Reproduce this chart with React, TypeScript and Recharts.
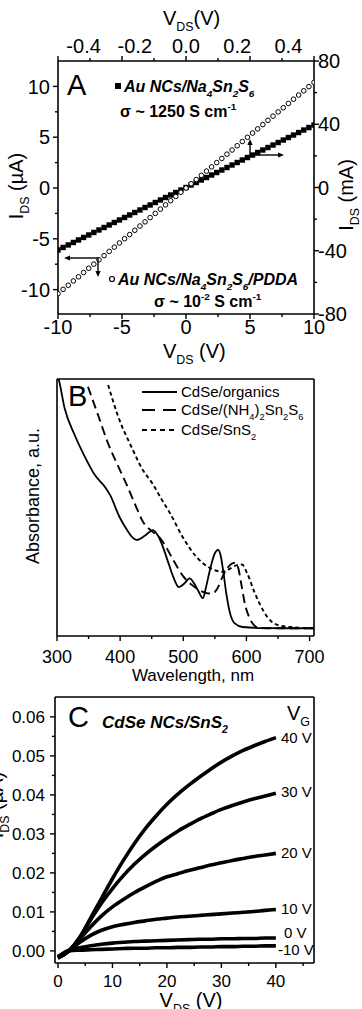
import React from "react";
import { LineChart, Line, XAxis, YAxis } from "recharts";

const FONT = '"Liberation Sans", Arial, Helvetica, sans-serif';
const INK = "#000";

// ---------- panel A : I-V of Au NC films ----------
const vdsBottom = [
  -10, -9.6, -9.2, -8.8, -8.4, -8, -7.6, -7.2, -6.8, -6.4, -6, -5.6, -5.2, -4.8, -4.4, -4, -3.6,
  -3.2, -2.8, -2.4, -2, -1.6, -1.2, -0.8, -0.4, 0, 0.4, 0.8, 1.2, 1.6, 2, 2.4, 2.8, 3.2, 3.6, 4,
  4.4, 4.8, 5.2, 5.6, 6, 6.4, 6.8, 7.2, 7.6, 8, 8.4, 8.8, 9.2, 9.6, 10,
];
// µA, open circles (PDDA film)
const iPdda = [
  -10.4, -9.98, -9.57, -9.15, -8.74, -8.32, -7.9, -7.49, -7.07, -6.66, -6.24, -5.82, -5.41, -4.99,
  -4.58, -4.16, -3.74, -3.33, -2.91, -2.5, -2.08, -1.66, -1.25, -0.83, -0.42, 0, 0.42, 0.83, 1.25,
  1.66, 2.08, 2.5, 2.91, 3.33, 3.74, 4.16, 4.58, 4.99, 5.41, 5.82, 6.24, 6.66, 7.07, 7.49, 7.9,
  8.32, 8.74, 9.15, 9.57, 9.98, 10.4,
];
const vdsTop = [
  -0.5, -0.48, -0.46, -0.44, -0.42, -0.4, -0.38, -0.36, -0.34, -0.32, -0.3, -0.28, -0.26, -0.24,
  -0.22, -0.2, -0.18, -0.16, -0.14, -0.12, -0.1, -0.08, -0.06, -0.04, -0.02, 0, 0.02, 0.04, 0.06,
  0.08, 0.1, 0.12, 0.14, 0.16, 0.18, 0.2, 0.22, 0.24, 0.26, 0.28, 0.3, 0.32, 0.34, 0.36, 0.38, 0.4,
  0.42, 0.44, 0.46, 0.48, 0.5,
];
// mA, filled squares (Na4Sn2S6 film)
const iNa = [
  -39.5, -37.92, -36.34, -34.76, -33.18, -31.6, -30.02, -28.44, -26.86, -25.28, -23.7, -22.12,
  -20.54, -18.96, -17.38, -15.8, -14.22, -12.64, -11.06, -9.48, -7.9, -6.32, -4.74, -3.16, -1.58,
  0, 1.58, 3.16, 4.74, 6.32, 7.9, 9.48, 11.06, 12.64, 14.22, 15.8, 17.38, 18.96, 20.54, 22.12,
  23.7, 25.28, 26.86, 28.44, 30.02, 31.6, 33.18, 34.76, 36.34, 37.92, 39.5,
];

// ---------- panel B : absorbance ----------
const organicsWl = [300, 303, 312, 328, 345, 360, 376, 384, 399, 411, 419, 426, 439, 452, 460, 468, 477, 484, 493, 502, 510, 517, 523, 531, 536, 542, 550, 555, 559, 563, 568, 574, 581, 594, 625, 707];
const organicsAbs = [1.02, 0.996, 0.887, 0.782, 0.693, 0.626, 0.58, 0.549, 0.463, 0.412, 0.385, 0.374, 0.39, 0.412, 0.39, 0.345, 0.28, 0.231, 0.19, 0.205, 0.224, 0.205, 0.179, 0.147, 0.19, 0.255, 0.322, 0.335, 0.315, 0.257, 0.167, 0.089, 0.05, 0.035, 0.031, 0.03];
const sn2s6Wl = [349, 365, 380, 396, 411, 424, 436, 449, 462, 473, 484, 500, 513, 523, 535, 546, 554, 562, 570, 576, 582, 587, 592, 598, 605, 612, 619, 645, 707];
const sn2s6Abs = [0.97, 0.86, 0.755, 0.665, 0.585, 0.51, 0.445, 0.41, 0.385, 0.345, 0.296, 0.232, 0.2, 0.182, 0.168, 0.165, 0.185, 0.23, 0.265, 0.28, 0.285, 0.265, 0.2, 0.12, 0.07, 0.042, 0.032, 0.03, 0.03];
const sns2Wl = [381, 396, 419, 434, 452, 466, 479, 499, 521, 542, 563, 574, 584, 593, 601, 612, 622, 633, 649, 669, 707];
const sns2Abs = [0.977, 0.86, 0.73, 0.654, 0.59, 0.53, 0.478, 0.385, 0.307, 0.265, 0.25, 0.262, 0.275, 0.278, 0.245, 0.175, 0.12, 0.074, 0.043, 0.035, 0.03];

// ---------- panel C : output curves ----------
const vdsC = [0, 2, 4, 6, 8, 10, 12, 14, 16, 18, 20, 22, 24, 26, 28, 30, 32, 34, 36, 38, 40];
const id40 = [-0.0018, 0, 0.0035, 0.0085, 0.0135, 0.0185, 0.0232, 0.0275, 0.0313, 0.0346, 0.0376, 0.0402, 0.0425, 0.0446, 0.0466, 0.0484, 0.05, 0.0514, 0.0526, 0.0537, 0.0547];
const id30 = [-0.0018, 0, 0.0035, 0.008, 0.0123, 0.016, 0.0193, 0.0222, 0.0247, 0.0269, 0.0289, 0.0307, 0.0323, 0.0338, 0.0351, 0.0363, 0.0373, 0.0382, 0.039, 0.0397, 0.0404];
const id20 = [-0.0018, 0, 0.003, 0.0062, 0.009, 0.0113, 0.0132, 0.0149, 0.0164, 0.0178, 0.019, 0.0198, 0.0206, 0.0213, 0.022, 0.0226, 0.0232, 0.0237, 0.0242, 0.0246, 0.025];
const id10 = [-0.0018, 0, 0.0022, 0.004, 0.0053, 0.0062, 0.0068, 0.0073, 0.0077, 0.0081, 0.0084, 0.0087, 0.0089, 0.0091, 0.0093, 0.0095, 0.0097, 0.0099, 0.0101, 0.0104, 0.0106];
const id0 = [-0.0015, 0.0002, 0.0008, 0.0013, 0.0017, 0.002, 0.0022, 0.0024, 0.0025, 0.0026, 0.0027, 0.0028, 0.0029, 0.003, 0.003, 0.0031, 0.0031, 0.0032, 0.0032, 0.0033, 0.0033];
const idm10 = [-0.0015, 0, 0.0002, 0.0003, 0.0004, 0.0005, 0.0006, 0.0007, 0.0007, 0.0008, 0.0008, 0.0009, 0.0009, 0.001, 0.001, 0.0011, 0.0011, 0.0012, 0.0012, 0.0013, 0.0013];
const gateLabels = ["40 V", "30 V", "20 V", "10 V", "0 V", "-10 V"];

const zip = (xs: number[], ys: number[]) => xs.map((x, i) => ({ x, y: ys[i] }));
const near = (arr: number[], v: number) => arr.some((a) => Math.abs(a - v) < 1e-9);
const union = (...a: number[][]) => Array.from(new Set(a.flat())).sort((p, q) => p - q);

type TickCfg = {
  side: "left" | "right" | "top" | "bottom";
  labels: number[];
  major: number[];
  minor: number[];
  fmt: (v: number) => string;
  size: number;
  gap: number;
};

// draws its own tick line (outward) and label, so minor ticks stay unlabeled
function tickFn(c: TickCfg) {
  return (props: any) => {
    const { x, y, payload } = props;
    const v = payload.value;
    const len = near(c.major, v) ? 5 : near(c.minor, v) ? 3 : 0;
    const txt = near(c.labels, v) ? c.fmt(v) : null;
    let l = [x, y, x, y];
    let t = { x, y, anchor: "middle", dy: "0" };
    if (c.side === "left") {
      l = [x - len, y, x, y];
      t = { x: x - c.gap, y, anchor: "end", dy: "0.36em" };
    } else if (c.side === "right") {
      l = [x, y, x + len, y];
      t = { x: x + c.gap, y, anchor: "start", dy: "0.36em" };
    } else if (c.side === "bottom") {
      l = [x, y, x, y + len];
      t = { x, y: y + c.gap, anchor: "middle", dy: "0" };
    } else {
      l = [x, y - len, x, y];
      t = { x, y: y - c.gap, anchor: "middle", dy: "0" };
    }
    return (
      <g>
        {len > 0 && <line x1={l[0]} y1={l[1]} x2={l[2]} y2={l[3]} stroke={INK} strokeWidth={1.4} />}
        {txt !== null && (
          <text x={t.x} y={t.y} dy={t.dy} textAnchor={t.anchor as any} fontSize={c.size} fontFamily={FONT} fill={INK}>
            {txt}
          </text>
        )}
      </g>
    );
  };
}

const axisLine = { stroke: INK, strokeWidth: 1.6 };

// text with _{sub} and ^{sup}
function Rich({ x, y, text, size, anchor = "start", bold = false, italic = false, rotate = false }: any) {
  const parts = text.split(/(_\{[^}]*\}|\^\{[^}]*\})/).filter(Boolean);
  let shift = 0;
  const spans = parts.map((p: string, i: number) => {
    let fs = size;
    let content = p;
    let dy = 0;
    if (p.startsWith("_{")) {
      content = p.slice(2, -1);
      fs = size * 0.62;
      dy = size * 0.32 - shift;
      shift = size * 0.32;
    } else if (p.startsWith("^{")) {
      content = p.slice(2, -1);
      fs = size * 0.62;
      dy = -size * 0.42 - shift;
      shift = -size * 0.42;
    } else {
      dy = -shift;
      shift = 0;
    }
    return (
      <tspan key={i} fontSize={fs} dy={dy}>
        {content}
      </tspan>
    );
  });
  return (
    <text
      x={x}
      y={y}
      fontSize={size}
      fontFamily={FONT}
      fill={INK}
      textAnchor={anchor}
      fontWeight={bold ? "bold" : "normal"}
      fontStyle={italic ? "italic" : "normal"}
      transform={rotate ? `rotate(-90 ${x} ${y})` : undefined}
    >
      {spans}
    </text>
  );
}

function Arrow({ x1, y1, x2, y2 }: any) {
  const a = Math.atan2(y2 - y1, x2 - x1);
  const h = 6;
  const w = 2.6;
  const bx = x2 - h * Math.cos(a);
  const by = y2 - h * Math.sin(a);
  const px = -Math.sin(a) * w;
  const py = Math.cos(a) * w;
  return (
    <g>
      <line x1={x1} y1={y1} x2={bx} y2={by} stroke={INK} strokeWidth={1.4} />
      <polygon points={`${x2},${y2} ${bx + px},${by + py} ${bx - px},${by - py}`} fill={INK} />
    </g>
  );
}

function PanelA() {
  const pdda = zip(vdsBottom, iPdda);
  const na = zip(vdsTop, iNa);
  const bt = { side: "bottom", labels: [-10, -5, 0, 5, 10], major: [-10, -5, 0, 5, 10], minor: [-7.5, -2.5, 2.5, 7.5], fmt: String, size: 20, gap: 20 } as TickCfg;
  const tp = { side: "top", labels: [-0.4, -0.2, 0, 0.2, 0.4], major: [-0.5, -0.25, 0, 0.25, 0.5], minor: [-0.375, -0.125, 0.125, 0.375], fmt: (v: number) => v.toFixed(1), size: 20, gap: 8 } as TickCfg;
  const lf = { side: "left", labels: [-10, -5, 0, 5, 10], major: [-10, -5, 0, 5, 10], minor: [-7.5, -2.5, 2.5, 7.5], fmt: String, size: 20, gap: 8 } as TickCfg;
  const rt = { side: "right", labels: [-80, -40, 0, 40, 80], major: [-80, -40, 0, 40, 80], minor: [-60, -20, 20, 60], fmt: String, size: 20, gap: 4 } as TickCfg;
  return (
    <LineChart width={362} height={345} margin={{ top: 0, right: 0, bottom: 0, left: 0 }}>
      <XAxis xAxisId="b" orientation="bottom" type="number" dataKey="x" domain={[-10, 10]} allowDataOverflow height={31}
        ticks={union(bt.labels, bt.major, bt.minor)} interval={0} tickSize={0} tickMargin={0} tickLine={false} tick={tickFn(bt)} axisLine={axisLine} />
      <XAxis xAxisId="t" orientation="top" type="number" dataKey="x" domain={[-0.5, 0.5]} allowDataOverflow height={61}
        ticks={union(tp.labels, tp.major, tp.minor)} interval={0} tickSize={0} tickMargin={0} tickLine={false} tick={tickFn(tp)} axisLine={axisLine} />
      <YAxis yAxisId="l" orientation="left" type="number" domain={[-12.4, 12.5]} allowDataOverflow width={58}
        ticks={union(lf.labels, lf.major, lf.minor)} interval={0} tickSize={0} tickMargin={0} tickLine={false} tick={tickFn(lf)} axisLine={axisLine} />
      <YAxis yAxisId="r" orientation="right" type="number" domain={[-80, 80]} allowDataOverflow width={48}
        ticks={union(rt.labels, rt.major, rt.minor)} interval={0} tickSize={0} tickMargin={0} tickLine={false} tick={tickFn(rt)} axisLine={axisLine} />
      <Line data={na} xAxisId="t" yAxisId="r" dataKey="y" stroke="none" isAnimationActive={false}
        dot={(p: any) => <rect key={`s${p.index}`} x={p.cx - 2.7} y={p.cy - 2.7} width={5.4} height={5.4} fill={INK} />} />
      <Line data={pdda} xAxisId="b" yAxisId="l" dataKey="y" stroke="none" isAnimationActive={false}
        dot={{ r: 2.3, fill: "#fff", stroke: INK, strokeWidth: 1 }} />
    </LineChart>
  );
}

function PanelB() {
  const bt = { side: "bottom", labels: [300, 400, 500, 600, 700], major: [300, 400, 500, 600, 700], minor: [350, 450, 550, 650], fmt: String, size: 18, gap: 27 } as TickCfg;
  return (
    <LineChart width={362} height={330} margin={{ top: 0, right: 0, bottom: 0, left: 0 }}>
      <XAxis xAxisId="b" orientation="bottom" type="number" dataKey="x" domain={[300, 707]} allowDataOverflow height={34}
        ticks={union(bt.labels, bt.minor)} interval={0} tickSize={0} tickMargin={0} tickLine={false} tick={tickFn(bt)} axisLine={axisLine} />
      <XAxis xAxisId="t" orientation="top" type="number" dataKey="x" domain={[300, 707]} height={39} tick={false} tickLine={false} axisLine={axisLine} />
      <YAxis yAxisId="l" orientation="left" type="number" domain={[0, 1]} allowDataOverflow width={57} tick={false} tickLine={false} axisLine={axisLine} />
      <YAxis yAxisId="r" orientation="right" type="number" domain={[0, 1]} width={48} tick={false} tickLine={false} axisLine={axisLine} />
      <Line data={zip(sns2Wl, sns2Abs)} xAxisId="b" yAxisId="l" dataKey="y" type="monotone" stroke={INK} strokeWidth={1.9} strokeDasharray="4 3" dot={false} isAnimationActive={false} />
      <Line data={zip(sn2s6Wl, sn2s6Abs)} xAxisId="b" yAxisId="l" dataKey="y" type="monotone" stroke={INK} strokeWidth={1.9} strokeDasharray="9 5" dot={false} isAnimationActive={false} />
      <Line data={zip(organicsWl, organicsAbs)} xAxisId="b" yAxisId="l" dataKey="y" type="monotone" stroke={INK} strokeWidth={1.8} dot={false} isAnimationActive={false} />
    </LineChart>
  );
}

function PanelC() {
  const bt = { side: "bottom", labels: [0, 10, 20, 30, 40], major: [0, 10, 20, 30, 40], minor: [5, 15, 25, 35, 45], fmt: String, size: 17, gap: 24 } as TickCfg;
  const lf = { side: "left", labels: [0, 0.01, 0.02, 0.03, 0.04, 0.05, 0.06], major: [0, 0.01, 0.02, 0.03, 0.04, 0.05, 0.06], minor: [0.005, 0.015, 0.025, 0.035, 0.045, 0.055], fmt: (v: number) => v.toFixed(2), size: 17, gap: 10 } as TickCfg;
  const series = [id40, id30, id20, id10, id0, idm10];
  return (
    <LineChart width={362} height={339} margin={{ top: 0, right: 0, bottom: 0, left: 0 }}>
      <XAxis xAxisId="b" orientation="bottom" type="number" dataKey="x" domain={[-0.55, 47]} allowDataOverflow height={46}
        ticks={union(bt.labels, bt.minor)} interval={0} tickSize={0} tickMargin={0} tickLine={false} tick={tickFn(bt)} axisLine={axisLine} />
      <XAxis xAxisId="t" orientation="top" type="number" dataKey="x" domain={[-0.55, 47]} height={27} tick={false} tickLine={false} axisLine={axisLine} />
      <YAxis yAxisId="l" orientation="left" type="number" domain={[-0.0031, 0.0651]} allowDataOverflow width={55}
        ticks={union(lf.labels, lf.minor)} interval={0} tickSize={0} tickMargin={0} tickLine={false} tick={tickFn(lf)} axisLine={axisLine} />
      <YAxis yAxisId="r" orientation="right" type="number" domain={[-0.0031, 0.0651]} width={48} tick={false} tickLine={false} axisLine={axisLine} />
      {series.map((s, i) => (
        <Line key={gateLabels[i]} data={zip(vdsC, s)} xAxisId="b" yAxisId="l" dataKey="y" type="monotone" stroke={INK} strokeWidth={3.6} dot={false} isAnimationActive={false} />
      ))}
    </LineChart>
  );
}

function Overlay() {
  const gateY = [743, 797, 858, 914, 938, 955];
  const gateX = [281, 281, 281, 281, 284, 278];
  return (
    <svg width={362} height={1009} style={{ position: "absolute", left: 0, top: 0, pointerEvents: "none" }}>
      {/* panel A */}
      <Rich x={163} y={25} text="V_{DS}(V)" size={20} />
      <Rich x={23} y={186} text="I_{DS} (µA)" size={20} anchor="middle" rotate />
      <Rich x={353} y={195} text="I_{DS} (mA)" size={20} anchor="middle" rotate />
      <Rich x={163} y={358} text="V_{DS} (V)" size={20} />
      <Rich x={67} y={95} text="A" size={29} />
      <rect x={115} y={83} width={6} height={6} fill={INK} />
      <Rich x={124} y={92} text="Au NCs/Na_{4}Sn_{2}S_{6}" size={16} bold italic />
      <Rich x={120} y={117} text="σ ~ 1250 S cm^{-1}" size={16} bold />
      <circle cx={112} cy={279} r={2.5} fill="#fff" stroke={INK} strokeWidth={1.2} />
      <Rich x={118} y={285} text="Au NCs/Na_{4}Sn_{2}S_{6}/PDDA" size={16} bold italic />
      <Rich x={154} y={307} text="σ ~ 10^{-2} S cm^{-1}" size={16} bold />
      <Arrow x1={250} y1={155} x2={250} y2={139} />
      <Arrow x1={250} y1={155} x2={284} y2={155} />
      <Arrow x1={98} y1={258} x2={64} y2={258} />
      <Arrow x1={98} y1={258} x2={98} y2={277} />

      {/* panel B */}
      <Rich x={68} y={406} text="B" size={29} />
      <Rich x={39} y={496} text="Absorbance, a.u." size={18} anchor="middle" rotate />
      <Rich x={193} y={681} text="Wavelength, nm" size={17} anchor="middle" />
      <line x1={142} y1={392} x2={177} y2={392} stroke={INK} strokeWidth={1.8} />
      <line x1={142} y1={410} x2={177} y2={410} stroke={INK} strokeWidth={1.9} strokeDasharray="13 8" />
      <line x1={142} y1={430} x2={177} y2={430} stroke={INK} strokeWidth={1.9} strokeDasharray="5 4" />
      <Rich x={181} y={397} text="CdSe/organics" size={15} />
      <Rich x={181} y={415} text="CdSe/(NH_{4})_{2}Sn_{2}S_{6}" size={15} />
      <Rich x={181} y={435} text="CdSe/SnS_{2}" size={15} />

      {/* panel C */}
      <Rich x={68} y={727} text="C" size={29} />
      <Rich x={102} y={728} text="CdSe NCs/SnS_{2}" size={17} bold italic />
      <Rich x={287} y={720} text="V_{G}" size={20} />
      {gateLabels.map((g, i) => (
        <Rich key={g} x={gateX[i]} y={gateY[i]} text={g} size={15} />
      ))}
      <Rich x={3} y={805} text="I_{DS} (µA)" size={20} anchor="middle" rotate />
      <Rich x={191} y={1007} text="V_{DS} (V)" size={20} anchor="middle" />
    </svg>
  );
}

export default function App() {
  return (
    <div style={{ position: "absolute", left: 0, top: 0, width: 362, height: 1009, background: "#fff", overflow: "hidden", fontFamily: FONT }}>
      <div style={{ position: "absolute", left: 0, top: 0 }}>
        <PanelA />
      </div>
      <div style={{ position: "absolute", left: 0, top: 340 }}>
        <PanelB />
      </div>
      <div style={{ position: "absolute", left: 0, top: 670 }}>
        <PanelC />
      </div>
      <Overlay />
    </div>
  );
}
